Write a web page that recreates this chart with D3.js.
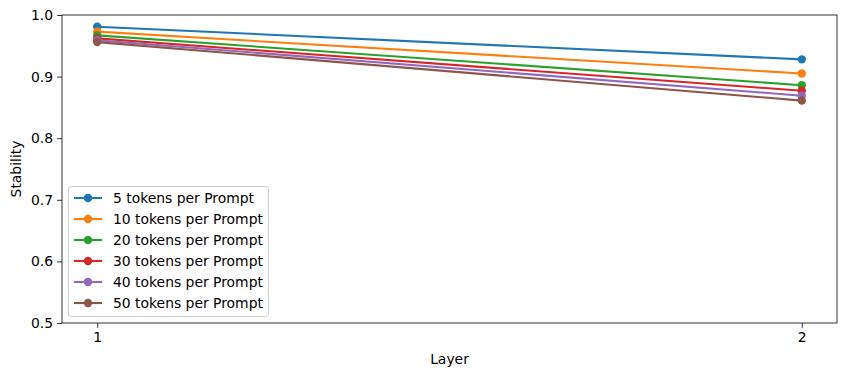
<!DOCTYPE html>
<html><head><meta charset="utf-8">
<script src="https://cdn.jsdelivr.net/npm/d3@7"></script>
<style>body{margin:0;background:#fff}svg{display:block}text{font-family:"DejaVu Sans",sans-serif}</style>
</head><body><svg id="c" width="846" height="376"></svg>
<script>
const layers = [1, 2];
const seriesNames = ["5 tokens per Prompt","10 tokens per Prompt","20 tokens per Prompt","30 tokens per Prompt","40 tokens per Prompt","50 tokens per Prompt"];
const s5  = [0.981, 0.928];
const s10 = [0.973, 0.905];
const s20 = [0.967, 0.886];
const s30 = [0.962, 0.877];
const s40 = [0.959, 0.869];
const s50 = [0.956, 0.861];
const colors = ["#1f77b4","#ff7f0e","#2ca02c","#d62728","#9467bd","#8c564b"];
const yTicks = [0.5,0.6,0.7,0.8,0.9,1.0];
const allSeries = [s5,s10,s20,s30,s40,s50];

const FS = 13.9;
const svg = d3.select("#c");
const L=62,R=837,T=15,B=323;
const x = d3.scaleLinear().domain([0.95,2.05]).range([L,R]);
const y = d3.scaleLinear().domain([0.5,1.0]).range([B,T]);

const xa = svg.append("g").attr("transform",`translate(0,${B})`).call(d3.axisBottom(x).tickValues(layers).tickFormat(d3.format("d")).tickSize(4.9).tickPadding(4));
const ya = svg.append("g").attr("transform",`translate(${L},0)`).call(d3.axisLeft(y).tickValues(yTicks).tickFormat(d3.format(".1f")).tickSize(4.9).tickPadding(4));
[xa,ya].forEach(a=>{a.select(".domain").remove();a.selectAll("text").attr("font-size",FS).attr("fill","#000").attr("font-family","DejaVu Sans");a.selectAll("line").attr("stroke","#000").attr("stroke-width",0.8);});

const line = d3.line().x((d,i)=>x(layers[i])).y(d=>y(d));
allSeries.forEach((s,k)=>{
  svg.append("path").datum(s).attr("d",line).attr("fill","none").attr("stroke",colors[k]).attr("stroke-width",2.1);
  svg.selectAll(null).data(s).enter().append("circle").attr("cx",(d,i)=>x(layers[i])).attr("cy",d=>y(d)).attr("r",4.2).attr("fill",colors[k]);
});

svg.append("rect").attr("x",L).attr("y",T).attr("width",R-L).attr("height",B-T).attr("fill","none").attr("stroke","#000").attr("stroke-width",0.8);

svg.append("text").attr("x",(L+R)/2).attr("y",364).attr("text-anchor","middle").attr("font-size",FS).text("Layer");
svg.append("text").attr("transform",`translate(21,${(T+B)/2}) rotate(-90)`).attr("text-anchor","middle").attr("font-size",FS).text("Stability");

const lg = svg.append("g");
lg.append("rect").attr("x",68.5).attr("y",186.5).attr("width",200).attr("height",130).attr("rx",3).attr("fill","#fff").attr("fill-opacity",0.8).attr("stroke","#ccc").attr("stroke-width",1);
seriesNames.forEach((n,k)=>{
  const yy = 198 + k*21;
  lg.append("line").attr("x1",74).attr("x2",102).attr("y1",yy).attr("y2",yy).attr("stroke",colors[k]).attr("stroke-width",2.1);
  lg.append("circle").attr("cx",88).attr("cy",yy).attr("r",4.2).attr("fill",colors[k]);
  lg.append("text").attr("x",113).attr("y",yy+5).attr("font-size",FS).text(n);
});
</script></body></html>
